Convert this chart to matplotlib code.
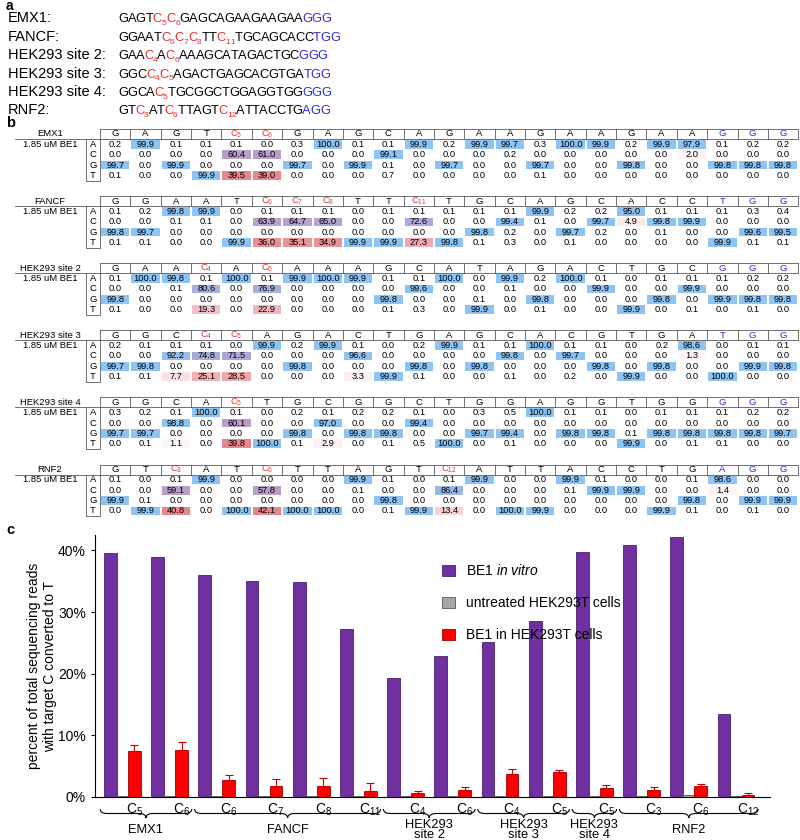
# -*- coding: utf-8 -*-
"""
BE1 base editing: target sequences, per-position base frequencies, C->T conversion bars
"""

import numpy as np
import matplotlib.pyplot as plt
from matplotlib.patches import Rectangle, PathPatch
from matplotlib.path import Path

plt.rcParams['font.family'] = ['Liberation Sans', 'DejaVu Sans']
plt.rcParams['mathtext.fontset'] = 'custom'
plt.rcParams['mathtext.rm'] = 'Liberation Sans'
plt.rcParams['mathtext.it'] = 'Liberation Sans:italic'
plt.rcParams['mathtext.default'] = 'regular'

#------------------------------------------------------------------------------
# data
#
site_names = ['EMX1', 'FANCF', 'HEK293 site 2', 'HEK293 site 3', 'HEK293 site 4', 'RNF2']
protospacers = ['GAGTCCGAGCAGAAGAAGAA', 'GGAATCCCTTCTGCAGCACC', 'GAACACAAAGCATAGACTGC',
                'GGCCCAGACTGAGCACGTGA', 'GGCACTGCGGCTGGAGGTGG', 'GTCATCTTAGTCATTACCTG']
pams = ['GGG', 'TGG', 'GGG', 'TGG', 'GGG', 'AGG']
targets = [[5, 6], [6, 7, 8, 11], [4, 6], [4, 5], [5], [3, 6, 12]]
sample_label = '1.85 uM BE1'
bases = ['A', 'C', 'G', 'T']

# base frequencies (%) per position, rows A, C, G, T
emx1_freq = [
    [0.2, 99.9, 0.1, 0.1, 0.1, 0.0, 0.3, 100.0, 0.1, 0.1, 99.9, 0.2, 99.9, 99.7, 0.3, 100.0, 99.9, 0.2, 99.9, 97.9, 0.1, 0.2, 0.2],
    [0.0, 0.0, 0.0, 0.0, 60.4, 61.0, 0.0, 0.0, 0.0, 99.1, 0.0, 0.0, 0.0, 0.2, 0.0, 0.0, 0.0, 0.0, 0.0, 2.0, 0.0, 0.0, 0.0],
    [99.7, 0.0, 99.9, 0.0, 0.0, 0.0, 99.7, 0.0, 99.9, 0.1, 0.0, 99.7, 0.0, 0.0, 99.7, 0.0, 0.0, 99.8, 0.0, 0.0, 99.8, 99.8, 99.8],
    [0.1, 0.0, 0.0, 99.9, 39.5, 39.0, 0.0, 0.0, 0.0, 0.7, 0.0, 0.0, 0.0, 0.0, 0.1, 0.0, 0.0, 0.0, 0.0, 0.0, 0.0, 0.0, 0.0]]
fancf_freq = [
    [0.1, 0.2, 99.8, 99.9, 0.0, 0.1, 0.1, 0.1, 0.0, 0.1, 0.1, 0.1, 0.1, 0.1, 99.9, 0.2, 0.2, 95.0, 0.1, 0.1, 0.1, 0.3, 0.4],
    [0.0, 0.0, 0.1, 0.1, 0.0, 63.9, 64.7, 65.0, 0.0, 0.0, 72.6, 0.0, 0.0, 99.4, 0.1, 0.0, 99.7, 4.9, 99.8, 99.9, 0.0, 0.0, 0.0],
    [99.8, 99.7, 0.0, 0.0, 0.0, 0.0, 0.0, 0.0, 0.0, 0.0, 0.0, 0.0, 99.8, 0.2, 0.0, 99.7, 0.2, 0.0, 0.1, 0.0, 0.0, 99.6, 99.5],
    [0.1, 0.1, 0.0, 0.0, 99.9, 36.0, 35.1, 34.9, 99.9, 99.9, 27.3, 99.8, 0.1, 0.3, 0.0, 0.1, 0.0, 0.0, 0.0, 0.0, 99.9, 0.1, 0.1]]
hek2_freq = [
    [0.1, 100.0, 99.8, 0.1, 100.0, 0.1, 99.9, 100.0, 99.9, 0.1, 0.1, 100.0, 0.0, 99.9, 0.2, 100.0, 0.1, 0.0, 0.1, 0.1, 0.1, 0.2, 0.2],
    [0.0, 0.0, 0.1, 80.6, 0.0, 76.9, 0.0, 0.0, 0.0, 0.0, 99.6, 0.0, 0.0, 0.1, 0.0, 0.0, 99.9, 0.0, 0.0, 99.9, 0.0, 0.0, 0.0],
    [99.8, 0.0, 0.0, 0.0, 0.0, 0.0, 0.0, 0.0, 0.0, 99.8, 0.0, 0.0, 0.1, 0.0, 99.8, 0.0, 0.0, 0.0, 99.8, 0.0, 99.9, 99.8, 99.8],
    [0.1, 0.0, 0.0, 19.3, 0.0, 22.9, 0.0, 0.0, 0.0, 0.1, 0.3, 0.0, 99.9, 0.0, 0.1, 0.0, 0.0, 99.9, 0.0, 0.1, 0.0, 0.1, 0.0]]
hek3_freq = [
    [0.2, 0.1, 0.1, 0.1, 0.0, 99.9, 0.2, 99.9, 0.1, 0.0, 0.2, 99.9, 0.1, 0.1, 100.0, 0.1, 0.1, 0.0, 0.2, 98.6, 0.0, 0.1, 0.1],
    [0.0, 0.0, 92.2, 74.8, 71.5, 0.0, 0.0, 0.0, 96.6, 0.0, 0.0, 0.0, 0.0, 99.8, 0.0, 99.7, 0.0, 0.0, 0.0, 1.3, 0.0, 0.0, 0.0],
    [99.7, 99.8, 0.0, 0.0, 0.0, 0.0, 99.8, 0.0, 0.0, 0.0, 99.8, 0.0, 99.8, 0.0, 0.0, 0.0, 99.8, 0.0, 99.8, 0.0, 0.0, 99.9, 99.8],
    [0.1, 0.1, 7.7, 25.1, 28.5, 0.0, 0.0, 0.0, 3.3, 99.9, 0.1, 0.0, 0.0, 0.1, 0.0, 0.2, 0.0, 99.9, 0.0, 0.0, 100.0, 0.0, 0.0]]
hek4_freq = [
    [0.3, 0.2, 0.1, 100.0, 0.1, 0.0, 0.2, 0.1, 0.2, 0.2, 0.1, 0.0, 0.3, 0.5, 100.0, 0.1, 0.1, 0.0, 0.1, 0.1, 0.1, 0.2, 0.2],
    [0.0, 0.0, 98.8, 0.0, 60.1, 0.0, 0.0, 97.0, 0.0, 0.0, 99.4, 0.0, 0.0, 0.0, 0.0, 0.0, 0.0, 0.0, 0.0, 0.0, 0.0, 0.0, 0.0],
    [99.7, 99.7, 0.0, 0.0, 0.0, 0.0, 99.8, 0.0, 99.8, 99.8, 0.0, 0.0, 99.7, 99.4, 0.0, 99.8, 99.8, 0.1, 99.8, 99.8, 99.8, 99.8, 99.7],
    [0.0, 0.1, 1.1, 0.0, 39.8, 100.0, 0.1, 2.9, 0.0, 0.1, 0.5, 100.0, 0.0, 0.1, 0.0, 0.0, 0.0, 99.9, 0.0, 0.1, 0.1, 0.0, 0.0]]
rnf2_freq = [
    [0.1, 0.0, 0.1, 99.9, 0.0, 0.0, 0.0, 0.0, 99.9, 0.1, 0.0, 0.1, 99.9, 0.0, 0.0, 99.9, 0.1, 0.0, 0.0, 0.1, 98.6, 0.0, 0.0],
    [0.0, 0.0, 59.1, 0.0, 0.0, 57.8, 0.0, 0.0, 0.1, 0.0, 0.0, 86.4, 0.0, 0.0, 0.0, 0.1, 99.9, 99.9, 0.0, 0.0, 1.4, 0.0, 0.0],
    [99.9, 0.1, 0.0, 0.0, 0.0, 0.0, 0.0, 0.0, 0.0, 99.8, 0.0, 0.0, 0.0, 0.0, 0.0, 0.0, 0.0, 0.0, 0.0, 99.8, 0.0, 99.9, 99.9],
    [0.0, 99.9, 40.8, 0.0, 100.0, 42.1, 100.0, 100.0, 0.0, 0.1, 99.9, 13.4, 0.0, 100.0, 99.9, 0.0, 0.0, 0.0, 99.9, 0.1, 0.0, 0.1, 0.0]]
freqs = [emx1_freq, fancf_freq, hek2_freq, hek3_freq, hek4_freq, rnf2_freq]

# panel c
bar_pos = [5, 6, 6, 7, 8, 11, 4, 6, 4, 5, 5, 3, 6, 12]
invitro = [39.5, 39.0, 36.0, 35.1, 34.9, 27.3, 19.3, 22.9, 25.1, 28.5, 39.8, 40.8, 42.1, 13.4]
untreated = [0.1, 0.1, 0.1, 0.1, 0.1, 0.1, 0.1, 0.1, 0.1, 0.1, 0.1, 0.1, 0.3, 0.1]
in_cells = [7.5, 7.7, 2.8, 1.8, 1.8, 1.0, 0.7, 1.1, 3.7, 4.0, 1.4, 1.2, 1.8, 0.4]
in_cells_err = [1.0, 1.2, 0.7, 1.2, 1.3, 1.2, 0.3, 0.5, 0.8, 0.4, 0.6, 0.4, 0.3, 0.2]
group_names = ['EMX1', 'FANCF', 'HEK293\nsite 2', 'HEK293\nsite 3', 'HEK293\nsite 4', 'RNF2']
group_sizes = [2, 4, 2, 2, 1, 3]

# colours
c_red = '#e8302a'
c_blue = '#2b2bd6'
c_purple = '#7030a0'
c_gray = '#a6a6a6'
c_barred = '#ff0000'
cell_blue = np.array([141, 196, 244]) / 255.
cell_purple = np.array([186, 158, 200]) / 255.
cell_pink = np.array([232, 132, 142]) / 255.

# Arial / Liberation Sans advance widths (em) for the sequence letters
ADV = {'A': 0.667, 'C': 0.722, 'G': 0.778, 'T': 0.611}

#------------------------------------------------------------------------------
fig = plt.figure(figsize=(8, 8.4), dpi=100)
bg = fig.add_axes([0, 0, 1, 1])
bg.set_xlim(0, 800)
bg.set_ylim(840, 0)
bg.axis('off')


def rich(x, y, parts, fs, track=0.95):
    # one glyph at a time, subscripts small and lowered
    for s, c, sub in parts:
        size = fs * 0.65 if sub else fs
        for ch in s:
            bg.text(x, y + (2.6 if sub else 0), ch, color=c, fontsize=size,
                    ha='left', va='baseline')
            x += ADV.get(ch, 0.556) * size * 100 / 72. * (1.0 if sub else track)


def seq_parts(ps, pam, tg):
    parts = []
    for k, ch in enumerate(ps + pam):
        p = k + 1
        if p in tg:
            parts.append(('C', c_red, False))
            parts.append((str(p), c_red, True))
        else:
            parts.append((ch, c_blue if p > len(ps) else 'k', False))
    return parts


# panel labels
bg.text(6, -1.5, 'a', fontsize=10, fontweight='bold', va='top')
bg.text(6, 123, 'b', fontsize=10.5, fontweight='bold', va='center')
bg.text(6, 530, 'c', fontsize=10.5, fontweight='bold', va='center')

#------------------------------------------------------------------------------
# a: sequences
for i in range(6):
    yb = 22.5 + 18.4 * i
    bg.text(8, yb, site_names[i] + ':', fontsize=10.5, va='baseline')
    rich(118, yb, seq_parts(protospacers[i], pams[i], targets[i]), 9.3)

#------------------------------------------------------------------------------
# b: frequency tables
col_w = 30.36
x0 = 100.
row_h = 10.35
lcol = '#5a5a5a'
for i in range(6):
    hy = 134 + 67.1 * i
    seq = protospacers[i] + pams[i]
    vals = np.array(freqs[i])
    ncol = len(seq)
    # title, sample
    bg.text(50, hy, site_names[i], fontsize=6.8, ha='center', va='center')
    bg.text(50, hy + row_h, sample_label, fontsize=6.8, ha='center', va='center')
    bg.plot([15, x0 + ncol * col_w], [hy + 5, hy + 5], color=lcol, lw=0.6)
    bg.plot([x0, x0 + ncol * col_w], [hy - 5, hy - 5], color=lcol, lw=0.6)
    for j in range(ncol + 1):
        bg.plot([x0 + j * col_w] * 2, [hy - 5, hy + 5], color=lcol, lw=0.6)
    # base letter box
    ybot = hy + 4 * row_h + 5.5
    bg.plot([86, 86, x0, x0], [hy + 5, ybot, ybot, hy + 5], color=lcol, lw=0.6)
    for k, b in enumerate(bases):
        bg.text(93, hy + (k + 1) * row_h, b, fontsize=6.8, ha='center', va='center')
    for j, ch in enumerate(seq):
        cx = x0 + (j + 0.5) * col_w
        p = j + 1
        if p in targets[i]:
            bg.text(cx, hy, r'C$_{%d}$' % p, fontsize=6.8, ha='center', va='center', color=c_red)
        else:
            bg.text(cx, hy, ch, fontsize=6.8, ha='center', va='center',
                    color=c_blue if p > 20 else 'k')
        for k, b in enumerate(bases):
            v = vals[k, j]
            cy = hy + (k + 1) * row_h
            if b == ch:
                t = np.clip((100 - v) / 40., 0, 1)
                fc = cell_blue * (1 - t) + cell_purple * t
            elif v >= 1.0:
                a = np.clip(v / 40., 0, 1) * 0.95 + 0.05
                fc = np.ones(3) * (1 - a) + cell_pink * a
            else:
                fc = None
            if fc is not None:
                bg.add_patch(Rectangle((cx - col_w / 2 + 1, cy - 4.3), col_w - 2, 8.6,
                                       facecolor=fc, edgecolor='none'))
            bg.text(cx, cy, '%.1f' % v, fontsize=6.7, ha='center', va='center')

#------------------------------------------------------------------------------
# c: bar chart
ax = fig.add_axes([95 / 800., 43 / 840., 675 / 800., 262 / 840.])
n = len(invitro)
xi = np.arange(n)
w = 0.255
ax.bar(xi - w, invitro, 0.27, color=c_purple, edgecolor='#4b1f6e', linewidth=0.6,
       label=r'BE1 $\it{in\ vitro}$')
ax.bar(xi, untreated, 0.27, color=c_gray, edgecolor='#555555', linewidth=0.6,
       label='untreated HEK293T cells')
ax.bar(xi + w, in_cells, 0.27, color=c_barred, edgecolor='#a00000', linewidth=0.6,
       label='BE1 in HEK293T cells')
ax.errorbar(xi + w, in_cells, yerr=[np.zeros(n), in_cells_err], fmt='none',
            ecolor='#c00000', elinewidth=0.8, capsize=3, capthick=0.8)
ax.set_xlim(-0.58, n - 0.28)
ax.set_ylim(0, 42.5)
ax.set_yticks([0, 10, 20, 30, 40])
ax.set_yticklabels(['0%', '10%', '20%', '30%', '40%'], fontsize=10)
ax.set_xticks(xi + w)
ax.set_xticklabels([r'C$_{%d}$' % p for p in bar_pos], fontsize=10)
ax.tick_params(axis='x', length=0, pad=3)
ax.tick_params(axis='y', length=3)
ax.spines['top'].set_visible(False)
ax.spines['right'].set_visible(False)
ax.set_ylabel('percent of total sequencing reads\nwith target C converted to T', fontsize=10)
ax.yaxis.set_label_coords(-0.056, 0.5)
ax.legend(loc='upper left', bbox_to_anchor=(0.496, 0.94), frameon=False, fontsize=10,
          handlelength=0.9, handleheight=0.9, labelspacing=1.3)

# braces under the x axis
to_bg = lambda x: bg.transData.inverted().transform(ax.transData.transform((x, 0)))[0]
start = 0
for g, sz in enumerate(group_sizes):
    xa = to_bg(start - 0.47)
    xb = to_bg(start + sz - 0.53)
    xm = (xa + xb) / 2
    y0, h, r = 809, 9, 7
    verts = [(xa, y0), (xa, y0 + h / 2), (xa + r, y0 + h / 2), (xa + r, y0 + h / 2),
             (xm - r, y0 + h / 2), (xm, y0 + h / 2), (xm, y0 + h),
             (xm, y0 + h / 2), (xm + r, y0 + h / 2), (xb - r, y0 + h / 2),
             (xb - r, y0 + h / 2), (xb, y0 + h / 2), (xb, y0)]
    codes = [Path.MOVETO, Path.CURVE3, Path.CURVE3, Path.LINETO, Path.LINETO,
             Path.CURVE3, Path.CURVE3, Path.CURVE3, Path.CURVE3, Path.LINETO,
             Path.LINETO, Path.CURVE3, Path.CURVE3]
    bg.add_patch(PathPatch(Path(verts, codes), facecolor='none', edgecolor='k', lw=0.8))
    bg.text(xm, 830, group_names[g], fontsize=9.3, ha='center', va='center',
            linespacing=0.88)
    start += sz

plt.savefig('out.png', dpi=100)
